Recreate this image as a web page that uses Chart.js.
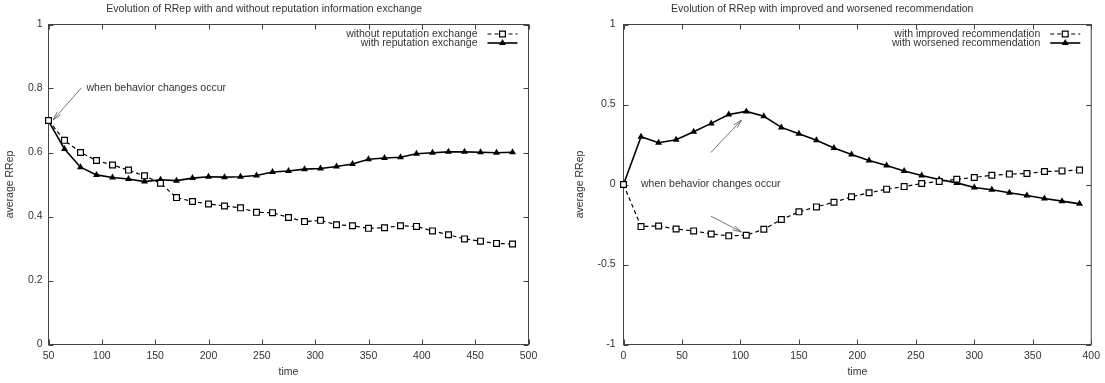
<!DOCTYPE html>
<html>
<head>
<meta charset="utf-8">
<script src="https://cdn.jsdelivr.net/npm/chart.js@4.4.1/dist/chart.umd.min.js"></script>
<style>
    html, body { margin: 0; padding: 0; background: #fff; }
    #wrap { position: relative; width: 1105px; height: 383px; overflow: hidden; }
    canvas { position: absolute; top: 0; }
</style>
</head>
<body>
<div id="wrap">
    <canvas id="leftChart" width="550" height="383" style="left:0"></canvas>
    <canvas id="rightChart" width="555" height="383" style="left:550px"></canvas>
</div>
<script>
// left chart: with / without reputation information exchange
const timeLeft = [50, 65, 80, 95, 110, 125, 140, 155, 170, 185, 200, 215, 230, 245, 260,
    275, 290, 305, 320, 335, 350, 365, 380, 395, 410, 425, 440, 455, 470, 485];
const withoutExchange = [0.700, 0.638, 0.600, 0.575, 0.561, 0.545, 0.527, 0.504, 0.459, 0.447,
    0.439, 0.433, 0.427, 0.413, 0.412, 0.397, 0.384, 0.388, 0.374, 0.371,
    0.363, 0.365, 0.371, 0.369, 0.355, 0.343, 0.330, 0.323, 0.316, 0.314];
const withExchange = [0.698, 0.611, 0.554, 0.530, 0.522, 0.517, 0.509, 0.515, 0.512, 0.520,
    0.524, 0.523, 0.524, 0.528, 0.539, 0.542, 0.548, 0.550, 0.556, 0.564,
    0.579, 0.583, 0.585, 0.596, 0.599, 0.602, 0.602, 0.601, 0.599, 0.601];
const xTicksLeft = [50, 100, 150, 200, 250, 300, 350, 400, 450, 500];
const yTicksLeft = [0, 0.2, 0.4, 0.6, 0.8, 1];

// right chart: improved / worsened recommendation
const timeRight = [0, 15, 30, 45, 60, 75, 90, 105, 120, 135, 150, 165, 180, 195,
    210, 225, 240, 255, 270, 285, 300, 315, 330, 345, 360, 375, 390];
const improvedRec = [0, -0.263, -0.259, -0.278, -0.290, -0.309, -0.321, -0.317, -0.280, -0.219,
    -0.171, -0.140, -0.111, -0.077, -0.052, -0.029, -0.013, 0.006, 0.019, 0.033,
    0.044, 0.058, 0.065, 0.069, 0.081, 0.085, 0.090];
const worsenedRec = [0, 0.299, 0.261, 0.280, 0.330, 0.382, 0.438, 0.457, 0.426, 0.357,
    0.317, 0.276, 0.228, 0.188, 0.150, 0.119, 0.085, 0.056, 0.031, 0.010,
    -0.019, -0.033, -0.052, -0.069, -0.088, -0.104, -0.121];
const xTicksRight = [0, 50, 100, 150, 200, 250, 300, 350, 400];
const yTicksRight = [-1, -0.5, 0, 0.5, 1];

const noteText = 'when behavior changes occur';
// arrows in data coords: [fromX, fromY, toX, toY]
const arrowsLeft = [[80.9, 0.802, 54.4, 0.702]];
const arrowsRight = [[74.7, 0.2, 100.8, 0.402], [74.7, -0.198, 100.8, -0.296]];

const textColor = '#333';
const frameColor = '#444';
Chart.defaults.font.family = '"Liberation Sans", Arial, sans-serif';
Chart.defaults.font.size = 10.5;
Chart.defaults.color = textColor;

function pts(xs, ys) {
    return xs.map((t, i) => ({ x: t, y: ys[i] }));
}

function fmt(v) {
    return String(+v.toFixed(2));
}

function drawMarker(ctx, style, x, y, r) {
    ctx.beginPath();
    if (style === 'rect') {
        const s = r * Math.SQRT1_2;
        ctx.rect(x - s, y - s, 2 * s, 2 * s);
        ctx.fillStyle = '#fff';
        ctx.fill();
        ctx.lineWidth = 1.2;
        ctx.stroke();
    } else {
        const h = Math.PI * 2 / 3;
        ctx.moveTo(x, y - r);
        ctx.lineTo(x + Math.sin(h) * r, y - Math.cos(h) * r);
        ctx.lineTo(x + Math.sin(2 * h) * r, y - Math.cos(2 * h) * r);
        ctx.closePath();
        ctx.fillStyle = '#000';
        ctx.fill();
    }
}

// gnuplot-like frame with inward ticks, legend and notes
const gnuplotLook = {
    id: 'gnuplotLook',
    beforeDatasetsDraw(chart) {
        const { ctx, chartArea: a, scales: { x, y } } = chart;
        ctx.save();
        ctx.strokeStyle = frameColor;
        ctx.lineWidth = 1;
        ctx.strokeRect(a.left, a.top, a.right - a.left, a.bottom - a.top);
        ctx.beginPath();
        x.ticks.forEach(t => {
            const px = Math.round(x.getPixelForValue(t.value)) + 0.5;
            ctx.moveTo(px, a.bottom); ctx.lineTo(px, a.bottom - 5);
            ctx.moveTo(px, a.top); ctx.lineTo(px, a.top + 5);
        });
        y.ticks.forEach(t => {
            const py = Math.round(y.getPixelForValue(t.value)) + 0.5;
            ctx.moveTo(a.left, py); ctx.lineTo(a.left + 5, py);
            ctx.moveTo(a.right, py); ctx.lineTo(a.right - 5, py);
        });
        ctx.stroke();
        ctx.restore();
    },
    afterDatasetsDraw(chart, args, opts) {
        const { ctx, chartArea: a, scales: { x, y } } = chart;
        ctx.save();
        // legend
        ctx.font = '10.5px "Liberation Sans", Arial, sans-serif';
        ctx.textAlign = 'right';
        ctx.textBaseline = 'middle';
        chart.data.datasets.forEach((ds, i) => {
            const ly = a.top + 9.5 + i * 9;
            ctx.fillStyle = textColor;
            ctx.fillText(ds.label, a.right - 51, ly);
            ctx.strokeStyle = '#000';
            ctx.lineWidth = ds.borderWidth;
            ctx.setLineDash(ds.borderDash || []);
            ctx.beginPath();
            ctx.moveTo(a.right - 41, ly);
            ctx.lineTo(a.right - 11, ly);
            ctx.stroke();
            ctx.setLineDash([]);
            drawMarker(ctx, ds.pointStyle, a.right - 26, ly, ds.pointRadius);
        });
        // note text
        ctx.fillStyle = textColor;
        ctx.textAlign = 'left';
        ctx.fillText(noteText, x.getPixelForValue(opts.noteAt[0]), y.getPixelForValue(opts.noteAt[1]));
        // arrows
        ctx.strokeStyle = '#555';
        ctx.lineWidth = 0.8;
        opts.arrows.forEach(([x0, y0, x1, y1]) => {
            const px0 = x.getPixelForValue(x0), py0 = y.getPixelForValue(y0);
            const px1 = x.getPixelForValue(x1), py1 = y.getPixelForValue(y1);
            const ang = Math.atan2(py1 - py0, px1 - px0);
            ctx.beginPath();
            ctx.moveTo(px0, py0);
            ctx.lineTo(px1, py1);
            ctx.moveTo(px1 - 9 * Math.cos(ang - 0.26), py1 - 9 * Math.sin(ang - 0.26));
            ctx.lineTo(px1, py1);
            ctx.lineTo(px1 - 9 * Math.cos(ang + 0.26), py1 - 9 * Math.sin(ang + 0.26));
            ctx.stroke();
        });
        ctx.restore();
    }
};

function makeOptions(cfg) {
    return {
        responsive: false,
        animation: false,
        devicePixelRatio: 1,
        layout: { padding: { left: 0, right: cfg.padRight, top: 0, bottom: 0 } },
        plugins: {
            legend: { display: false },
            tooltip: { enabled: false },
            title: {
                display: true,
                text: cfg.title,
                color: textColor,
                font: { size: 10.5, weight: 'normal' },
                padding: { top: 3.2, bottom: 8.7 }
            },
            gnuplotLook: { noteAt: cfg.noteAt, arrows: cfg.arrows }
        },
        scales: {
            x: {
                type: 'linear',
                min: cfg.xTicks[0],
                max: cfg.xTicks[cfg.xTicks.length - 1],
                grid: { display: false, drawTicks: false },
                border: { display: false },
                afterBuildTicks: s => { s.ticks = cfg.xTicks.map(v => ({ value: v })); },
                afterFit: s => { s.height = 38.5; },
                ticks: { padding: 5, maxRotation: 0, autoSkip: false, color: textColor, callback: fmt },
                title: { display: true, text: 'time', color: textColor, padding: { top: 0, bottom: 4.3 } }
            },
            y: {
                min: cfg.yTicks[0],
                max: cfg.yTicks[cfg.yTicks.length - 1],
                grid: { display: false, drawTicks: false },
                border: { display: false },
                afterBuildTicks: s => { s.ticks = cfg.yTicks.map(v => ({ value: v })); },
                afterFit: s => { s.width = cfg.yWidth; },
                ticks: { padding: cfg.yPad, autoSkip: false, color: textColor, callback: fmt },
                title: { display: true, text: 'average RRep', color: textColor, padding: { top: cfg.yTitlePad, bottom: 0 } }
            }
        }
    };
}

function makeDatasets(labels, squares, triangles, xs) {
    return [{
        label: labels[0],
        data: pts(xs, squares),
        borderColor: '#000',
        borderWidth: 1.2,
        borderDash: [4, 3],
        pointStyle: 'rect',
        pointRadius: 4.1,
        pointBorderWidth: 1.2,
        pointBackgroundColor: '#fff',
        pointBorderColor: '#000',
        tension: 0,
        clip: false
    }, {
        label: labels[1],
        data: pts(xs, triangles),
        borderColor: '#000',
        borderWidth: 1.6,
        pointStyle: 'triangle',
        pointRadius: 4,
        pointBorderWidth: 0,
        pointBackgroundColor: '#000',
        pointBorderColor: '#000',
        tension: 0,
        clip: false
    }];
}

new Chart(document.getElementById('leftChart'), {
    type: 'line',
    data: { datasets: makeDatasets(['without reputation exchange', 'with reputation exchange'], withoutExchange, withExchange, timeLeft) },
    options: makeOptions({
        title: 'Evolution of RRep with and without reputation information exchange',
        xTicks: xTicksLeft, yTicks: yTicksLeft,
        padRight: 21.5, yWidth: 48.5, yPad: 6, yTitlePad: 4.2,
        noteAt: [85.6, 0.80], arrows: arrowsLeft
    }),
    plugins: [gnuplotLook]
});

new Chart(document.getElementById('rightChart'), {
    type: 'line',
    data: { datasets: makeDatasets(['with improved recommendation', 'with worsened recommendation'], improvedRec, worsenedRec, timeRight) },
    options: makeOptions({
        title: 'Evolution of RRep with improved and worsened recommendation',
        xTicks: xTicksRight, yTicks: yTicksRight,
        padRight: 10.5, yWidth: 73.5, yPad: 8, yTitlePad: 24,
        noteAt: [15, 0], arrows: arrowsRight
    }),
    plugins: [gnuplotLook]
});
</script>
</body>
</html>
